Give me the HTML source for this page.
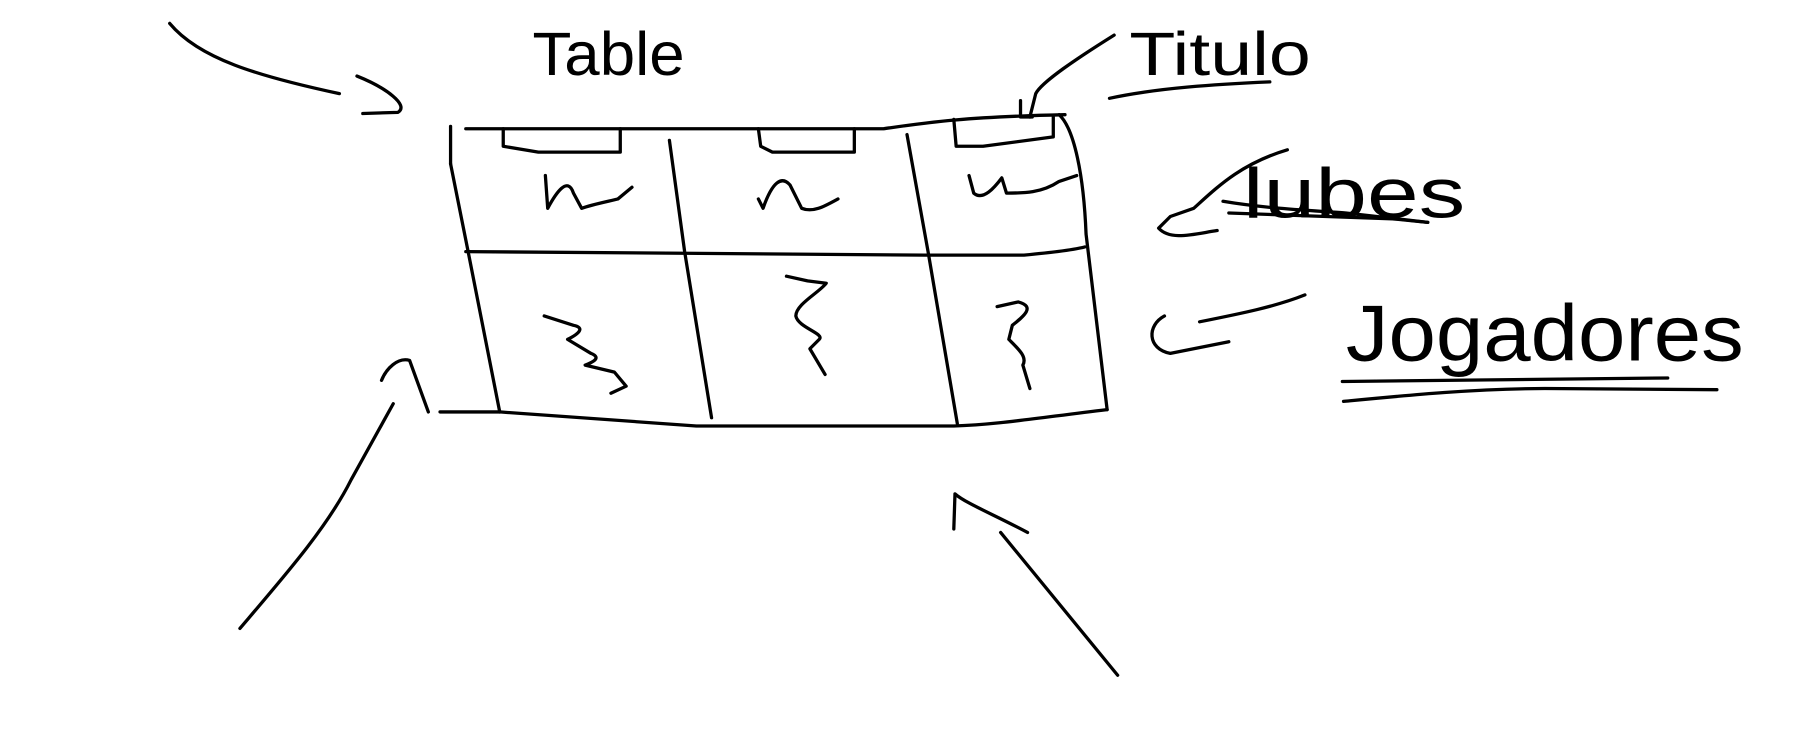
<!DOCTYPE html>
<html><head><meta charset="utf-8"><style>
html,body{margin:0;padding:0;background:#fff;}
svg{display:block;}
text{font-family:"Liberation Sans",sans-serif;fill:#000;font-weight:normal;}
</style></head><body>
<svg width="1814" height="752" viewBox="0 0 1550 642.6" preserveAspectRatio="none" fill="none" stroke="#000" stroke-width="2.8" stroke-linecap="round" stroke-linejoin="round">
  <g>
    <path d="M145,20 C170,50 220,65 290,80"/>
    <path d="M305,65 C330,75 350,90 340,96 L310,97"/>
  </g>
  <text x="455" y="64" font-size="52" stroke="none" textLength="130" lengthAdjust="spacingAndGlyphs">Table</text>
  <g>
    <path d="M952,30 C920,50 890,70 885,80 L880,100"/>
    <path d="M872,86 L872,100 L882,100"/>
  </g>
  <text x="965" y="64" font-size="52" stroke="none" textLength="155" lengthAdjust="spacingAndGlyphs">Titulo</text>
  <path d="M948,84 C990,75 1040,72 1085,70"/>
  <g>
    <path d="M398,110 L755,110 C790,105 820,100 910,98"/>
    <path d="M385,108 L385,140" />
    <path d="M385,140 L400,215 L427,352"/>
    <path d="M905,98 C918,110 926,150 928,200 L946,350"/>
    <path d="M572,120 L585,215 L608,357"/>
    <path d="M775,115 L793,215 L818,362"/>
    <path d="M398,215 L790,218 L875,218 C895,216 915,214 927,211"/>
    <path d="M376,352 L427,352 L595,364 L815,364 C850,363 880,358 946,350"/>
    <path d="M430,110 L430,125 L460,130 L530,130 L530,110"/>
    <path d="M648,110 L650,125 L660,130 L730,130 L730,110"/>
    <path d="M815,102 L817,125 L840,125 L900,117 L900,100"/>
    <path d="M466,150 L468,178 C475,165 485,150 490,165 L497,178 C505,175 520,172 528,170 L540,160"/>
    <path d="M648,170 L652,178 C660,155 668,150 675,158 L685,178 C695,182 705,176 716,170"/>
    <path d="M828,150 L832,165 C840,172 850,160 856,152 L860,165 C875,165 890,165 905,155 L920,150"/>
    <path d="M465,270 L490,278 C500,280 495,285 485,290 L505,302 C515,306 505,310 500,312 L525,318 L535,330 L522,336"/>
    <path d="M672,236 L690,240 L706,242 C700,250 680,260 680,270 C682,280 705,285 700,290 L692,298 L705,320"/>
    <path d="M852,262 L870,258 C885,262 875,270 865,278 L862,290 C870,298 878,305 874,312 L880,332"/>
  </g>
  <g>
    <path d="M205,537 C245,490 280,450 300,410 L336,345"/>
    <path d="M326,325 C330,315 340,305 350,308 L366,352"/>
  </g>
  <g>
    <path d="M955,577 L855,455"/>
    <path d="M815,452 L816,422 C825,430 850,440 878,455"/>
  </g>
  <path d="M1100,128 C1060,140 1040,160 1020,178 L1000,185 L990,195 C1000,206 1020,200 1040,197"/>
  <text x="1062" y="186" font-size="60" stroke="none" textLength="190" lengthAdjust="spacingAndGlyphs">lubes</text>
  <path d="M1045,172 C1080,178 1120,180 1150,182 L1220,190"/>
  <path d="M1050,182 L1190,187 L1220,190"/>
  <g>
    <path d="M1115,252 C1090,262 1060,268 1025,275"/>
    <path d="M995,270 C980,278 980,298 1000,302 L1050,292"/>
  </g>
  <text x="1150" y="308" font-size="68" stroke="none" textLength="340" lengthAdjust="spacingAndGlyphs">Jogadores</text>
  <path d="M1147,326 L1425,323"/>
  <path d="M1148,343 C1200,338 1260,332 1320,332 L1467,333"/>
</svg>
</body></html>
